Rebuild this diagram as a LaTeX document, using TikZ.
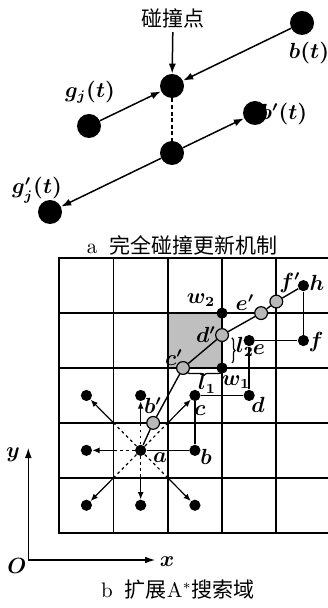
\documentclass[tikz,border=0pt]{standalone}
\usepackage{fontspec}
\usepackage{amsmath}
\usepackage{tikz}
\usetikzlibrary{arrows.meta,positioning,decorations.pathreplacing}
\newfontfamily\cjk{Noto Sans CJK SC}
\definecolor{cellgray}{HTML}{BFBFBF}
\definecolor{ptgray}{HTML}{B8B8B8}

\begin{document}
\begin{tikzpicture}[x=0.5pt, y=-0.5pt, >=Latex,
  every node/.style={font=\fontsize{10.5}{12}\selectfont\boldmath, inner sep=0pt},
  captxt/.style={font=\fontsize{10.5}{12}\selectfont},
  bigdot/.style={circle, fill=black, minimum size=12pt},
  dot/.style={circle, fill=black, minimum size=5.6pt},
  gdot/.style={circle, draw, fill=ptgray, line width=0.6pt, minimum size=6.4pt},
  arr/.style={-{Latex[length=5pt,width=3.6pt]}, line width=0.75pt},
  sarr/.style={-{Latex[length=3.6pt,width=3pt]}, line width=0.6pt},
  search/.style={line width=0.6pt, dash pattern=on 1.4pt off 1.6pt},
  gridline/.style={line width=0.9pt, line cap=rect},
  pathline/.style={line width=0.7pt},
  bracket/.style={decorate, decoration={brace, amplitude=1.6pt}, line width=0.6pt}]
  \useasboundingbox (0,0) rectangle (327,608);

  % a: collision update
  \node[captxt] (hitlbl) at (173,18) {\cjk 碰撞点};
  \node[bigdot] (hit) at (172,86) {};
  \node[bigdot] (bt) at (302,23) {};
  \node[bigdot] (gj) at (89,126) {};
  \node[bigdot] (bpt) at (255,113) {};
  \node[bigdot] (low) at (172,153) {};
  \node[bigdot] (gpj) at (50,212) {};
  \node (btlbl) at (309,53) {$b(t)$};
  \node (gjlbl) at (90,92) {$g_j(t)$};
  \node (bptlbl) at (284,114) {$b'(t)$};
  \node (gpjlbl) at (37,190) {$g'_j(t)$};

  \draw[arr, shorten <=2pt] (hitlbl) -- (hit);
  \draw[arr] (bt) -- (hit);
  \draw[arr] (gj) -- (hit);
  \draw[line width=1pt, dash pattern=on 2pt off 1.3pt] (hit) -- (low);
  \draw[arr] (low) -- (bpt);
  \draw[arr] (low) -- (gpj);
  \node[captxt] (capa) at (182,245) {a\hspace{6pt}{\cjk 完全碰撞更新机制}};

  % b: extended A* search field
  \begin{scope}[shift={(59.3,532.7)}, x=27.125pt, y=27.45pt]
    \fill[cellgray] (2,3) rectangle (3,4);
    \foreach \i in {0,...,4} \draw[gridline] (\i,0) -- (\i,5);
    \foreach \j in {0,...,5} \draw[gridline] (0,\j) -- (4.94,\j);

    \node[dot] (a) at (1.5,1.5) {};
    \node[dot] (b) at (2.5,1.5) {};
    \node[dot] (c) at (2.5,2.5) {};
    \node[dot] (d) at (3.5,2.5) {};
    \node[dot] (e) at (3.5,3.5) {};
    \node[dot] (f) at (4.5,3.5) {};
    \node[dot] (h) at (4.5,4.5) {};
    \node[dot] (w1) at (3,3) {};
    \node[dot] (w2) at (3,4) {};
    \node[dot] (nul) at (0.5,2.5) {};
    \node[dot] (nup) at (1.5,2.5) {};
    \node[dot] (nlf) at (0.5,1.5) {};
    \node[dot] (ndl) at (0.5,0.5) {};
    \node[dot] (ndn) at (1.5,0.5) {};
    \node[dot] (ndr) at (2.5,0.5) {};

    \coordinate (kul) at (1,2);
    \coordinate (kup) at (1.5,2);
    \coordinate (kur) at (2,2);
    \coordinate (klf) at (1,1.5);
    \coordinate (kdl) at (1,1);
    \coordinate (kdn) at (1.5,1);
    \coordinate (kdr) at (2,1);

    \draw[search] (a) -- (kul);
    \draw[search] (a) -- (kup);
    \draw[search] (a) -- (kur);
    \draw[search] (a) -- (klf);
    \draw[search] (a) -- (kdl);
    \draw[search] (a) -- (kdn);
    \draw[search] (a) -- (kdr);
    \draw[sarr] (kul) -- (nul);
    \draw[sarr] (kup) -- (nup);
    \draw[sarr] (kur) -- (c);
    \draw[sarr] (klf) -- (nlf);
    \draw[sarr] (kdl) -- (ndl);
    \draw[sarr] (kdn) -- (ndn);
    \draw[sarr] (kdr) -- (ndr);

    \draw[pathline] (a) -- (b) -- (c) -- (d) -- (e) -- (f) -- (h);

    \node[gdot] (bp) at (1.73,2) {};
    \node[gdot] (cp) at (2.28,3) {};
    \node[gdot] (dp) at (3,3.6) {};
    \node[gdot] (ep) at (3.72,4) {};
    \node[gdot] (fp) at (4,4.21) {};
    \draw[pathline] (a) -- (bp) -- (cp) -- (dp) -- (ep) -- (fp) -- (h);

    \coordinate (l1a) at (3,2.93);
    \coordinate (l1b) at (2.35,2.93);
    \coordinate (l2a) at (3.18,3.55);
    \coordinate (l2b) at (3.18,3.09);
    \draw[bracket] (l1a) -- (l1b);
    \draw[bracket] (l2a) -- (l2b);
  \end{scope}

  \node (albl) at (160,458) {$a$};
  \node (blbl) at (206,457) {$b$};
  \node (clbl) at (200,411) {$c$};
  \node (dlbl) at (258,405) {$d$};
  \node (elbl) at (259,350) {$e$};
  \node (flbl) at (316,342) {$f$};
  \node (hlbl) at (317,283) {$h$};
  \node (fplbl) at (290,283) {$f'$};
  \node (eplbl) at (245,303) {$e'$};
  \node (w2lbl) at (201,300) {$w_2$};
  \node (dplbl) at (206,335) {$d'$};
  \node (cplbl) at (174,358) {$c'$};
  \node (w1lbl) at (236,382) {$w_1$};
  \node (bplbl) at (153,406) {$b'$};
  \node (l1lbl) at (207,384) {$l_1$};
  \node (l2lbl) at (245,347) {$l_2$};

  % axes
  \coordinate (orig) at (28.3,560);
  \coordinate (ytip) at (28.3,448);
  \coordinate (xtip) at (155,560);
  \draw[{Latex[length=5pt,width=3.4pt]}-{Latex[length=5pt,width=3.4pt]}, line width=0.6pt] (ytip) -- (orig) -- (xtip);
  \node (olbl) at (17,566) {$O$};
  \node (ylbl) at (13,455) {$y$};
  \node (xlbl) at (167,562) {$x$};
  \node[captxt] (capb) at (178,590) {b\hspace{6pt}{\cjk 扩展}A$^*${\cjk 搜索域}};
\end{tikzpicture}
\end{document}
